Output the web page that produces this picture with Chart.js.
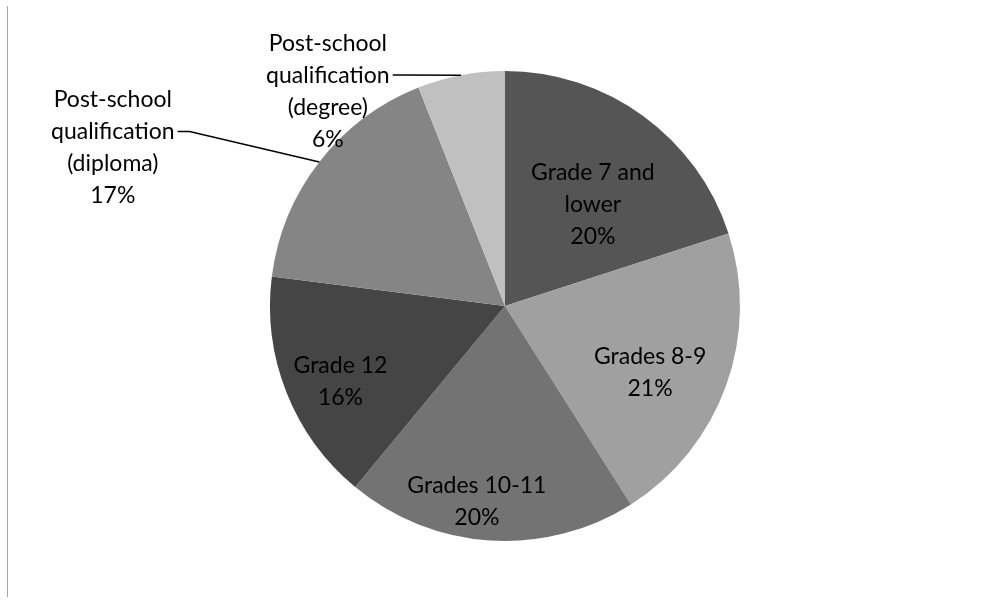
<!DOCTYPE html>
<html>
<head>
<meta charset="utf-8">
<script src="https://cdn.jsdelivr.net/npm/chart.js@4.4.0/dist/chart.umd.min.js"></script>
<style>
  html, body { margin: 0; padding: 0; background: #fff; }
  #wrap { position: relative; width: 989px; height: 602px; }
  #edge { position: absolute; left: 7px; top: 6px; width: 1px; height: 591px; background: #a6a6a6; }
</style>
</head>
<body>
<div id="wrap">
  <div id="edge"></div>
  <canvas id="pie" width="989" height="602"></canvas>
</div>
<script>
// ── Education level pie ─────────────────────────────────────────
const labels = [
  ['Grade 7 and', 'lower'],
  ['Grades 8-9'],
  ['Grades 10-11'],
  ['Grade 12'],
  ['Post-school', 'qualification', '(diploma)'],
  ['Post-school', 'qualification', '(degree)']
];
const values = [20, 21, 20, 16, 17, 6];
const colors = ['#555555', '#a0a0a0', '#737373', '#454545', '#858585', '#c0c0c0'];

// label placement: radius as fraction of R, angle shift from slice middle (deg)
const labelR     = [0.57, 0.68, 0.84, 0.77, 1.80, 1.185];
const labelShift = [5, 5, 4.6, -3, -15.8, -28.7];

const FONT = '23px Lato, "Open Sans", sans-serif';
const LINE_H = 32;

const labelPlugin = {
  id: 'sliceLabels',
  afterDraw(chart) {
    const c = chart.ctx;
    const total = values.reduce((s, v) => s + v, 0);
    const arcs = chart.getDatasetMeta(0).data;
    c.save();
    c.font = FONT;
    c.fillStyle = '#000';
    c.textAlign = 'center';
    c.textBaseline = 'middle';
    arcs.forEach((arc, i) => {
      const { x, y, startAngle, endAngle, outerRadius } = arc.getProps(['x', 'y', 'startAngle', 'endAngle', 'outerRadius'], true);
      const mid = (startAngle + endAngle) / 2;
      const a = mid + labelShift[i] * Math.PI / 180;
      const r = outerRadius * labelR[i];
      const cx = x + Math.cos(a) * r;
      const cy = y + Math.sin(a) * r;
      const lines = labels[i].concat([Math.round(values[i] / total * 100) + '%']);
      const top = cy - (lines.length - 1) * LINE_H / 2;
      lines.forEach((t, k) => c.fillText(t, cx, top + k * LINE_H));

      // leader line for labels outside the pie
      if (labelR[i] > 1) {
        const w = c.measureText(lines[1]).width;
        const sx = cx + w / 2 + 3;
        const sy = top + LINE_H;
        const ex = x + Math.cos(mid) * outerRadius;
        const ey = y + Math.sin(mid) * outerRadius;
        c.strokeStyle = '#000';
        c.lineWidth = 1.5;
        c.beginPath();
        c.moveTo(sx, sy);
        c.lineTo(sx + 12, sy);
        c.lineTo(ex, ey);
        c.stroke();
      }
    });
    c.restore();
  }
};

new Chart(document.getElementById('pie'), {
  type: 'pie',
  data: {
    labels: labels.map(l => l.join(' ')),
    datasets: [{
      data: values,
      backgroundColor: colors,
      borderWidth: 0
    }]
  },
  options: {
    responsive: false,
    animation: false,
    layout: { padding: { top: 71, bottom: 61, left: 270, right: 249 } },
    plugins: {
      legend: { display: false },
      tooltip: { enabled: false }
    }
  },
  plugins: [labelPlugin]
});
</script>
</body>
</html>
